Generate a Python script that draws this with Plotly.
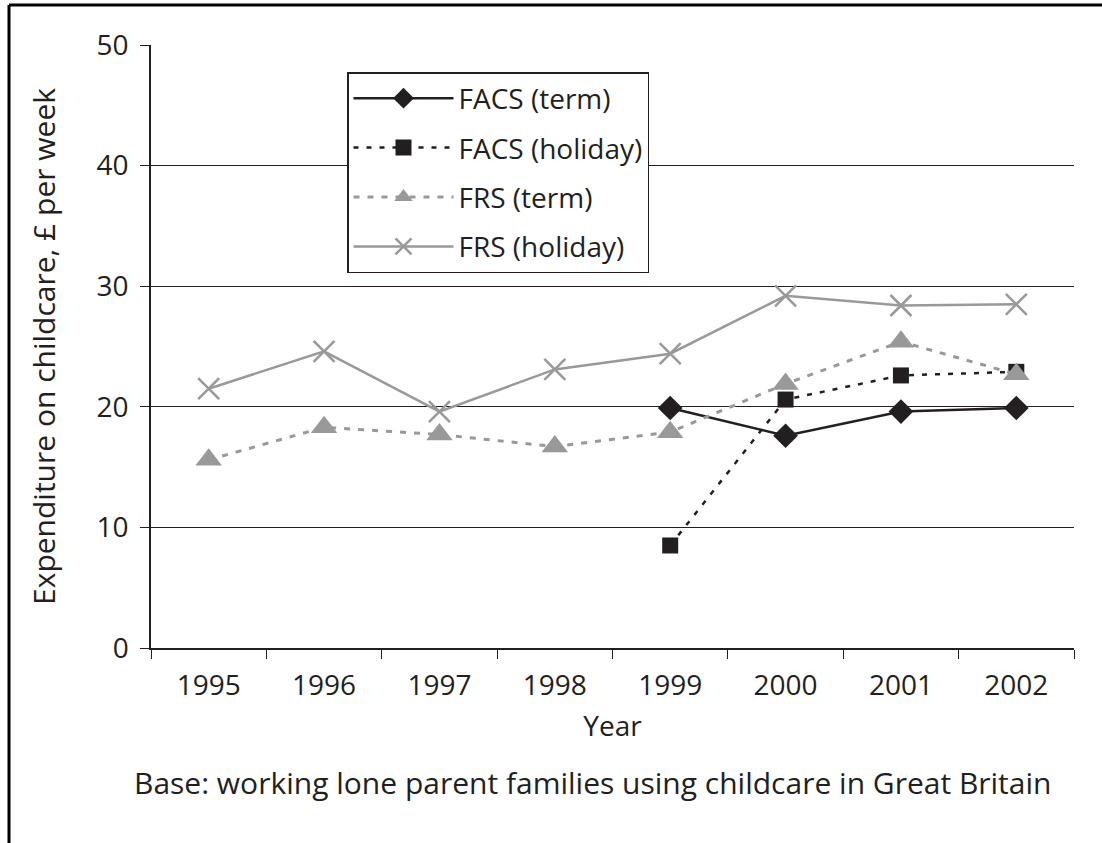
import plotly.graph_objects as go

# Weekly childcare spending of working lone parents, two surveys
years = ["1995", "1996", "1997", "1998", "1999", "2000", "2001", "2002"]
facs_term = [None, None, None, None, 19.9, 17.6, 19.6, 19.9]
facs_holiday = [None, None, None, None, 8.5, 20.6, 22.6, 22.9]
frs_term = [15.6, 18.3, 17.7, 16.7, 17.9, 21.9, 25.4, 22.7]
frs_holiday = [21.5, 24.6, 19.6, 23.1, 24.4, 29.2, 28.4, 28.5]

y_ticks = [0, 10, 20, 30, 40, 50]

INK = "#231f20"
GREY = "#999999"
FONT = "Open Sans"

fig = go.Figure()

fig.add_trace(go.Scatter(
    x=years, y=facs_term, name="FACS (term)", mode="lines+markers",
    legendgroup="a",
    line=dict(color=INK, width=2.5),
    marker=dict(symbol="diamond", size=19, color=INK),
))
fig.add_trace(go.Scatter(
    x=years, y=facs_holiday, name="FACS (holiday)", mode="lines+markers",
    legendgroup="b",
    line=dict(color=INK, width=2.5, dash="5px,8px"),
    marker=dict(symbol="square", size=16, color=INK),
))
fig.add_trace(go.Scatter(
    x=years, y=frs_term, name="FRS (term)", mode="lines+markers",
    legendgroup="c",
    line=dict(color=GREY, width=3, dash="6px,8px"),
    marker=dict(symbol="triangle-up", size=23, color=GREY),
))
fig.add_trace(go.Scatter(
    x=years, y=frs_holiday, name="FRS (holiday)", mode="lines+markers",
    legendgroup="d",
    line=dict(color=GREY, width=2.5),
    marker=dict(symbol="x-thin-open", size=21, color=GREY,
                line=dict(color=GREY, width=2.5)),
))

L, R, T, B = 151, 28, 45, 195
W, H = 1102, 843
pw, ph = W - L - R, H - T - B


def px_x(x):
    return (x - L) / pw


def px_y(y):
    return (H - B - y) / ph


# open frame: top and left edges only
fig.add_shape(type="line", xref="paper", yref="paper",
              x0=px_x(9), x1=px_x(1102), y0=px_y(5), y1=px_y(5),
              line=dict(color="black", width=3))
fig.add_shape(type="line", xref="paper", yref="paper",
              x0=px_x(9), x1=px_x(9), y0=px_y(5), y1=px_y(843),
              line=dict(color="black", width=3))

fig.add_annotation(
    text="Base: working lone parent families using childcare in Great Britain",
    xref="paper", yref="paper", x=px_x(592), y=px_y(782),
    showarrow=False, xanchor="center", yanchor="middle",
    font=dict(family=FONT, size=30, color=INK),
)

fig.update_layout(
    width=W, height=H,
    margin=dict(l=L, r=R, t=T, b=B),
    paper_bgcolor="white", plot_bgcolor="white",
    font=dict(family=FONT, size=27, color=INK),
    showlegend=True,
    legend=dict(
        x=px_x(347), y=px_y(72), xanchor="left", yanchor="top",
        bgcolor="white", bordercolor=INK, borderwidth=1.5,
        font=dict(family=FONT, size=28, color=INK),
        itemwidth=100, traceorder="grouped", tracegroupgap=10,
    ),
    xaxis=dict(
        type="category", tickson="boundaries", ticks="outside", ticklen=9,
        tickcolor=INK, showline=True, linecolor=INK, linewidth=1.5,
        showgrid=False, range=[-0.5, 7.5], ticklabelstandoff=12,
        title=dict(text="Year", font=dict(size=28), standoff=14),
        tickfont=dict(size=28),
    ),
    yaxis=dict(
        range=[0, 50], tickvals=y_ticks, ticks="outside", ticklen=9,
        tickcolor=INK, showline=True, linecolor=INK, linewidth=1.5,
        showgrid=True, gridcolor=INK, gridwidth=1, zeroline=False,
        ticklabelstandoff=6,
        title=dict(text="Expenditure on childcare, £ per week",
                   font=dict(size=30), standoff=32),
        tickfont=dict(size=28),
    ),
)

fig.write_html("out.html")
